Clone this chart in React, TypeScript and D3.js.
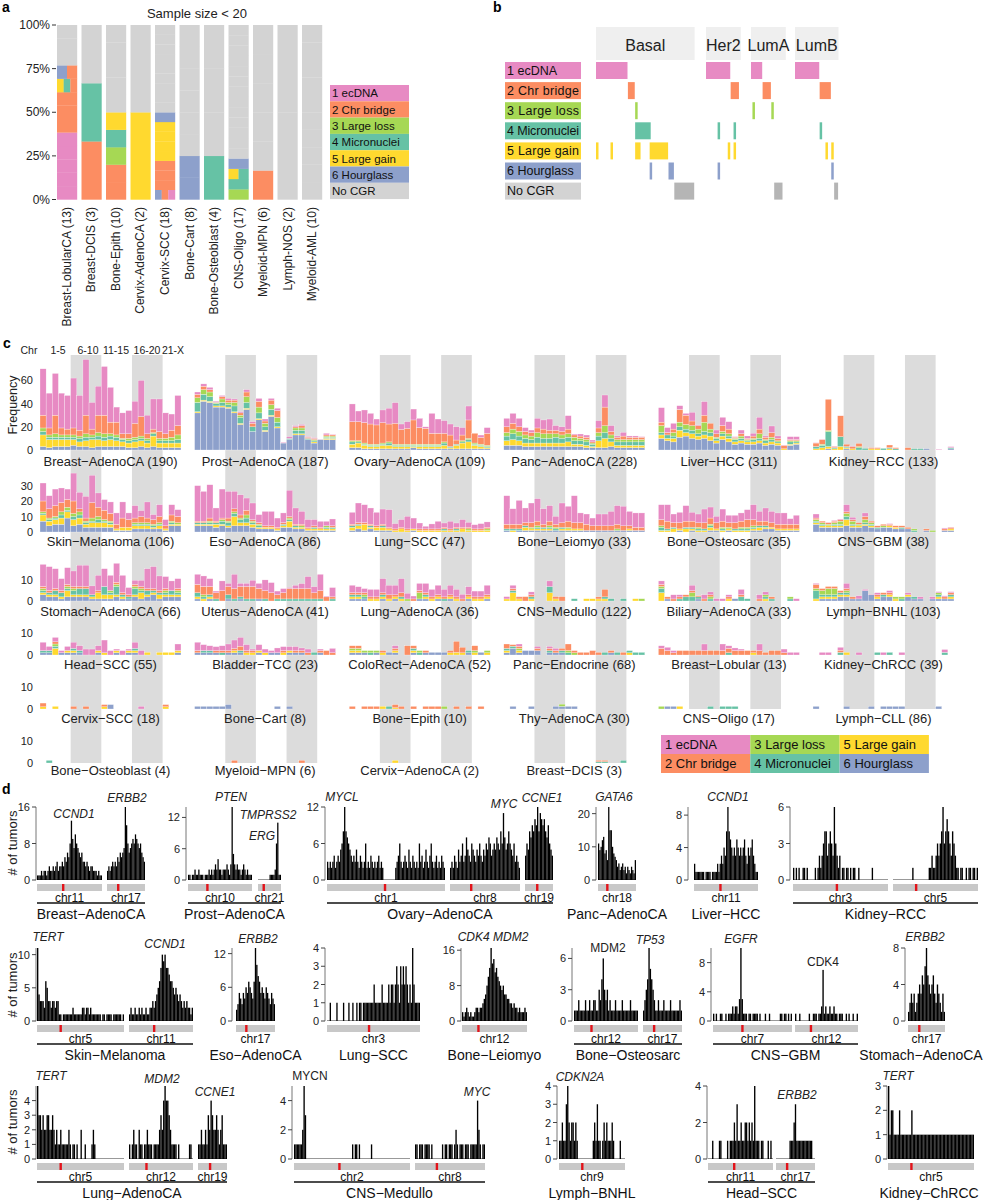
import React from "react";
import * as d3 from "d3";

const FONT = "Arial, 'Liberation Sans', Helvetica, sans-serif";
const PINK = "#e78ac3", ORANGE = "#fc8d62", GREEN = "#a6d854", TEAL = "#66c2a5", YELLOW = "#ffd92f", BLUE = "#8da0cb", GREY = "#d3d3d3";
const CAT_COLOR: Record<string, string> = { "1": PINK, "2": ORANGE, "3": GREEN, "4": TEAL, "5": YELLOW, "6": BLUE, "0": GREY };
const STACK_COLORS = [BLUE, YELLOW, TEAL, GREEN, ORANGE, PINK]; // hourglass, gain, micronuclei, loss, bridge, ecDNA
const LEGEND_LABELS = ["1 ecDNA", "2 Chr bridge", "3 Large loss", "4 Micronuclei", "5 Large gain", "6 Hourglass", "No CGR"];
const LEGEND_CODES = ["1", "2", "3", "4", "5", "6", "0"];

// ---------------- Panel a data ----------------
const A_TYPES = ["Breast-LobularCA (13)", "Breast-DCIS (3)", "Bone-Epith (10)", "Cervix-AdenoCA (2)", "Cervix-SCC (18)", "Bone-Cart (8)", "Bone-Osteoblast (4)", "CNS-Oligo (17)", "Myeloid-MPN (6)", "Lymph-NOS (2)", "Myeloid-AML (10)"];
const A_SAMPLES: string[][] = [
  ["1", "1", "1", "1", "1", "2", "2", "2", "542", "62", "", "", ""],
  ["2", "4", ""],
  ["2", "2", "3", "4", "5", "", "", "", "", ""],
  ["5", ""],
  ["621", "2", "2", "2", "5", "5", "5", "5", "6", "", "", "", "", "", "", "", "", ""],
  ["6", "6", "", "", "", "", "", ""],
  ["4", "", "", ""],
  ["3", "4", "54", "6", "", "", "", "", "", "", "", "", "", "", "", "", ""],
  ["2", "", "", "", "", ""],
  ["", ""],
  ["", "", "", "", "", "", "", "", "", ""],
];
const A_TICKS = [0, 0.25, 0.5, 0.75, 1];

// ---------------- Panel b data ----------------
const B_GROUPS = ["Basal", "Her2", "LumA", "LumB"];
const B_SIZES = [68, 24, 24, 30];
const B_MARKS_BASAL = [[1, 0, 22], [2, 22, 27], [3, 27, 29], [4, 27, 38], [5, 0, 2], [5, 10, 12], [5, 27, 31], [5, 37, 50], [6, 37, 39], [6, 50, 54], [0, 54, 68]];
const B_MARKS_HER2 = [[1, 0, 17], [2, 17, 23], [4, 8, 10], [4, 19, 21], [5, 15, 17], [5, 19, 21], [6, 8, 10]];
const B_MARKS_LUMA = [[1, 0, 8], [2, 8, 14], [3, 1, 3], [3, 14, 16], [0, 16, 22]];
const B_MARKS_LUMB = [[1, 0, 17], [2, 17, 25], [4, 17, 19], [5, 21, 23], [5, 25, 27], [6, 25, 27], [0, 27, 30]];
const B_MARKS = [B_MARKS_BASAL, B_MARKS_HER2, B_MARKS_LUMA, B_MARKS_LUMB];

// ---------------- Panel c data ([hourglass, gain, micronuclei, loss, bridge, ecDNA] per chromosome 1..22,X) ----------------
const C_BREAST_ADENO = [[3,10,3,3,11,40],[2,7,2,2,6,30],[3,6,2,3,16,36],[3,6,2,2,6,30],[3,6,2,2,5,29],[4,5,2,2,6,43],[3,4,3,2,5,30],[3,5,3,3,16,48],[2,7,2,2,5,23],[3,6,3,3,15,25],[3,5,3,3,16,42],[3,6,3,2,10,30],[3,5,3,2,11,13],[3,4,2,1,4,18],[2,4,2,2,4,20],[2,5,2,2,12,19],[3,5,2,2,17,31],[2,4,2,2,4,16],[3,9,2,1,3,26],[2,4,2,2,6,28],[2,4,2,2,4,18],[2,4,2,3,6,14],[2,4,3,4,8,26]];
const C_PROST = [[32,1,8,4,3,2],[42,1,5,4,3,2],[41,1,4,4,2,2],[37,1,2,1,0,1],[37,1,3,3,2,1],[36,1,2,2,2,1.5],[32,1,5,3,2,1],[22,1,5,2,2,1],[35,1,5,5,4,2],[16,0,4,0,3,1.4],[26,1,5,5,5,2.5],[16,1,3,3,2,1.7],[29,1,5,4,4,1.5],[19,1,4,4,6,2],[6,0,0,0,0,0.6],[9,0,1,0,0,1.5],[13,1,3,2,1,1],[13,1,3,2,2,1],[9,0,1,0,1,0.5],[6,1,1,1,1,0.6],[9,0,0,0,0,0.2],[9,1,1,1,1,1.4],[9,1,1,1,1,0.5]];
const C_OVARY = [[2,3,2,1,16.4,15.3],[2,4,1,1,16.4,9.2],[1,3,1,1,17.6,10.9],[1,2,1,1,17.4,9.2],[1,2,1,1,16.6,5.1],[1,3,1,1,17.6,10.9],[1,3,2,1,15.4,13.6],[1,2,1,1,18,17.8],[1,2,1,1,12.8,4.6],[1,2,1,1,13.7,5.7],[2,1,1,1,20.9,9.4],[1,2,1,1,14.3,8],[1,2,1,1,13.7,1.3],[1,2,1,1,9.4,17.2],[1,2,1,1,9.4,12.3],[1,3,2,1,7.4,10.9],[1,1,1,0,9.9,9.5],[1,3,1,0,3.6,11.4],[1,5,1,1,4.9,6.4],[1,6,2,1,15.9,12],[1,3,1,1,8.4,0],[1,2,1,1,5.9,2],[1,1,1,1,10.4,4.9]];
const C_PANC = [[4,4,4,3,5,7.3],[4,5,5,4,5,8.6],[4,4,4,4,4,7.3],[3,3,4,3,3,3.3],[3,3,3,3,3,2.2],[3,3,5,4,4,8.3],[3,3,4,4,4,7.9],[3,3,4,4,3,9.7],[3,3,5,3,3,4],[3,3,4,3,3,4],[3,4,4,3,4,11.6],[3,2,3,3,2,0.8],[3,2,3,2,2,1.8],[2,2,3,2,2,1.9],[2,1,2,1,1,1.6],[2,6,4,3,4,6.3],[2,8,5,6,16,10.4],[3,4,3,3,3,5],[2,2,3,2,2,1.1],[2,2,3,2,3,3.2],[2,2,3,2,2,1.1],[2,2,3,2,2,1.1],[2,2,3,2,2,0.5]];
const C_LIVER = [[10,3,2,6,3,12.5],[8,2,3,0,2,4.3],[7,3,2,3,3,5],[11,6,3,4,11,3.2],[12,3,3,4,8,1.6],[10,4,3,4,4,7.5],[9,3,2,4,3,0.6],[10,3,3,8,6,11.7],[8,4,3,3,5,0],[6,2,2,1,3,3.2],[9,3,2,2,5,7.2],[7,3,2,2,4,6.4],[5,2,2,1,1,0.5],[6,2,2,2,2,3.2],[5,2,1,1,1,2.1],[5,2,2,1,2,2.4],[6,2,2,4,4,10.2],[4,2,2,1,2,1.1],[5,2,2,2,4,5.7],[4,2,1,1,2,2.1],[0,1,0,0,3,0.3],[4,1,2,1,1,2.5],[5,1,1,1,1,2.5]];
const C_KIDNEY_RCC = [[0,1,2,0,3,0.3],[0,2,2,1,4,0.2],[1,2,12.8,1,26.9,0],[0,1,1,0,1,0.4],[0,3,8.5,0,18,0.1],[1,1,1,0,2,0],[0,1,0,0,2,0.4],[0,0,2,1,2.7,0],[0,0,1.4,0,0,0],[0,1,0,0,1,0],[0,1,0,0,1,0],[0,0,1.4,0,0,0],[0,1,1,0,2.3,0],[0,0,1,0,1,0],[],[0,0,0,0,2,0],[0,0,1.1,0,0,0],[0,0,1.1,0,0,0],[1.1,0,0,0,0,0],[],[0,0,0,0,0,0.6],[],[1,0,1,0,0,0.9]];
const C_SKIN = [[7,4,1,1,7,11.6],[4,3,1,1,6,8.4],[5,3,1,1,7,10.7],[5,4,2,2,6,9.4],[9,4,1,2,5,6.7],[4,4,2,2,8,18],[5,4,2,2,2,10.6],[3,2,1,1,2,14],[3,3,1,2,10,17.6],[3,3,2,2,6,9.2],[3,3,1,1,6,6.9],[3,2,1,1,5,7.4],[1,1,0,0,3,7.3],[1,2,0,0,6,10.4],[1,2,0,0,5,4.3],[2,2,1,1,3,8],[2,2,1,1,4,3.8],[2,2,1,1,3,10.4],[2,1,1,1,3,3.2],[2,2,1,1,4,7.6],[1,1,0,0,2,4],[4,1,1,1,4,6.6],[4,1,0,1,4,4.4]];
const C_ESO = [[4,1,1,0,1,22.9],[4,1,1,0,1,19.2],[4,1,1,1,2,21.5],[3,2,1,0,1,8.5],[4,1,2,1,1,18.7],[3,1,2,1,2,17.2],[4,6,2,1,2,11.2],[4,2,2,1,2,13],[4,2,3,2,3,7.9],[3,2,1,1,1,10.7],[2,1,1,1,1,5.2],[2,1,0,0,1,9.3],[2,1,0,0,1,9.3],[1,1,0,0,1,6],[3,1,1,0,1,6.3],[3,4,1,1,1,16.9],[2,1,1,0,1,10.5],[2,1,0,1,1,8.3],[1,1,0,0,1,5],[1,1,1,0,1,4],[1,1,0,0,1,3.9],[1,1,1,1,0,2.9],[1,1,1,0,1,4.4]];
const C_LUNG_SCC = [[1,2,1,0,1,7.7],[2,2,1,0,1,12.7],[1,4,0,0,1,11.6],[2,1,1,0,1,10.5],[1,2,0,0,1,8.7],[1,2,1,0,1,9.8],[1,1,0,0,1,11.4],[0,1,0,0,1,3.4],[0,2,0,0,1,5],[0,1,0,0,1,8.1],[1,1,0,0,0,7],[0,1,0,0,1,3.8],[0,1,0,0,1,1.7],[0,1,0,0,1,3.2],[0,1,0,0,1,4.9],[0,1,1,0,1,2.8],[0,1,0,0,1,4.9],[0,1,1,0,1,2.8],[0,2,0,0,1,5],[0,1,0,1,1,3.2],[0,1,0,0,1,2.7],[0,1,0,0,1,3.4],[0,1,0,1,1,3.5]];
const C_LEIOMYO = [[1,0,1,0,3,18.4],[0,1,1,0,3,10],[1,0,1,0,3,15.4],[1,2,1,0,2,9.5],[1,1,0,1,3,12.7],[1,1,1,1,3,14.5],[1,1,1,0,2,10],[1,1,1,1,3,10],[1,0,1,1,2,5.1],[1,1,1,0,3,12.7],[1,1,0,1,4,9.6],[1,1,0,0,4,17.4],[1,1,0,0,4,6.3],[1,0,0,0,4,6.6],[1,0,0,0,3,5],[1,0,0,0,3,7.6],[1,0,0,0,3,7.6],[1,0,0,0,3,9.3],[1,0,0,1,3,12],[1,0,0,0,3,12.6],[1,1,0,0,2,9.3],[1,0,0,0,2,9.3],[1,0,0,0,2,9.3]];
const C_OSTEOSARC = [[0,1,2,1,4,9.6],[0,1,1,0,5,10.6],[0,2,1,0,3,5.6],[1,1,0,0,4,6.7],[0,2,1,0,4,10],[1,1,1,0,4,5.7],[0,1,1,1,3,5.6],[0,1,1,0,4,8.8],[1,2,1,1,4,7.1],[1,1,0,0,4,4.1],[0,1,1,1,4,7.8],[1,1,0,1,3,4.8],[0,1,1,0,4,4.8],[0,1,1,1,4,5.3],[0,1,1,1,5,6.4],[1,1,1,1,4,9.6],[1,2,1,0,3,6.3],[2,1,1,0,3,8.5],[2,1,0,0,3,7.3],[1,1,0,0,3,7.3],[1,1,0,0,3,7.3],[1,1,0,0,3,3.6],[1,1,0,0,3,5.8]];
const C_GBM = [[5,1,1,1,1,2.6],[3,1,1,1,1,0],[3,1,0,1,1,0.2],[3,1,1,1,1,0.5],[3,1,1,2,1,0.4],[4,4,2,2,1,4.6],[3,1,1,2,1,1.5],[3,1,0,1,1,0],[4,1,1,2,2,2.3],[3,1,1,1,1,0],[2,0,1,0,1,0],[3,0,0,1,1,0],[3,1,0,0,1,0.4],[2,1,0,0,1,0],[2,0,1,0,1,0],[2,0,0,0,1,0],[0,0,1,1,0,0],[],[1,0,0,0,1,0],[0,0,0,1,0,0],[],[1,0,0,0,1,0.6],[1,1,0,0,1,0.2]];
const C_STOMACH = [[3,1,1,1,1,10.7],[2,1,1,0,1,11.6],[2,1,2,0,1,9.6],[1,1,2,0,1,5.8],[2,3,1,1,1,8.1],[2,1,2,1,1,7.5],[2,1,3,0,1,10.3],[2,1,3,0,1,10.3],[1,1,1,0,0,4.3],[1,3,0,0,1,7.4],[1,2,4,0,0,8.6],[1,2,1,1,0,7.4],[2,1,4,1,1,9.2],[1,1,1,0,1,8.4],[1,0,1,0,1,3.5],[2,1,3,1,1,2],[1,3,1,1,1,3],[2,1,2,0,1,9.6],[3,1,1,0,1,10.6],[1,2,1,0,1,7.1],[2,1,1,1,1,5.8],[2,1,2,0,0,4.7],[2,1,1,1,1,4.8]];
const C_UTERUS = [[1,1,2,0,4,4.9],[0,1,1,1,4,5.1],[1,1,1,0,4,3.8],[0,0,1,0,3,0.8],[0,0,0,0,5,4.7],[1,0,2,0,4,1.5],[0,0,1,0,5,6.9],[1,0,1,0,5,1.5],[0,0,1,0,6,1.5],[0,0,1,0,6,3],[1,0,0,0,5,2.5],[0,0,1,0,4,5.2],[0,0,0,0,4,4.9],[0,0,1,0,2,1.8],[0,0,1,0,3,2],[0,0,1,0,5,0.5],[0,0,1,0,5,1.6],[0,0,1,0,5,2.4],[0,0,1,0,5,5.8],[0,0,1,0,3,2.9],[0,0,1,0,4,7.9],[0,0,0,0,2,0.4],[0,0,1,0,1,4.5]];
const C_LUNG_ADENO = [[1,1,1,0,1,3.6],[1,1,1,0,1,2.9],[1,0,1,1,1,2],[0,1,0,0,1,3.6],[0,1,0,0,1,3.6],[1,1,1,0,1,6.8],[0,1,0,0,2,4.6],[1,1,0,0,1,4.6],[0,1,1,0,2,6.8],[0,0,0,1,0,2.7],[0,0,0,0,1,1.4],[1,0,0,3,1,3.5],[1,1,1,0,1,4.5],[0,1,0,0,1,3.6],[1,1,0,0,1,4.6],[0,0,1,0,1,3.6],[1,1,0,0,1,4.6],[0,1,0,0,1,3.6],[0,0,0,0,1,2.2],[1,1,0,0,1,3.9],[0,1,0,0,1,2.8],[0,1,0,0,1,2.8],[1,1,0,0,1,4.6]];
const C_MEDULLO = [[0,1,0,0,0,1.1],[0,4,1,0,1,1.6],[0,1,0,0,1,0.2],[0,0,0,0,2.1,0],[0,1,1,0,1,1.4],[],[],[0,4,3,0,0,2.7],[0,1,0,0,1.1,0],[0,0,0,0,2.1,0],[],[0,0,1.1,0,0,0],[],[0,1.1,0,0,0,0],[0,1.1,0,0,0,0],[0,1,0,0,1,0],[0,1,1,0,3.6,0],[0,0,1.1,0,0,0],[],[0,0,1.1,0,0,0],[],[0,1.1,0,0,0,0],[0,0,0,1.1,0,0]];
const C_BILIARY = [[0,4,2,1,1,1.7],[1,0,0,0,1,0],[0,0,0,0,1,2],[0,0,1,0,1,1],[0,0,2,0,1,0],[0,0,2,2,1,2.6],[1,0,1,0,0.5,0],[0,0,0,0,1,2],[0,0,1,1,1,1.4],[0,0,0,0,0,1.1],[0,0,0,0,0,1.1],[0,1,0,0,1,1],[1.1,0,0,0,0,0],[0,0,2,0,1,2.6],[0,0,1.1,0,0,0],[],[0,0,0,0,1,2],[0,1,1,1,0,1.4],[0,0,1,0,1,0],[],[],[0,0,1,1,0,0],[0,0,0,0,0,1.1]];
const C_BNHL = [[0,1,4,1,2,0.5],[1,1,1,2,1,0],[1,1,1,3,1,0],[1,1,1,3,1,0],[2,1,1,0,1,0],[2,1,1,1,1,2.5],[1,0,0,0,1,0],[1,0,0,0,0,1.5],[5,0,0,0,0,0.6],[3,0,0,0,0,0.2],[1,1,0,0,1,1],[2,0,1,0,1,0],[2,1,0,0,1,1],[0,1,0,1,0,0],[0,0,1,1,0,0],[2,1,0,0,0,1],[1,0,1,0,0,0],[1,0,0,0,0,1],[],[1,0,0,0,0,1],[1,1,1,1,0,0.5],[1,0,0,0,1,0.5],[1,1,1,0,1,0.5]];
const C_HEAD_SCC = [[1,0,1,0,0,3.8],[1,0,1,0,0,1.9],[0,3,1,1,1,2],[1,0,0,0,0,1],[1,1,0,0,0,1.9],[1,1,1,0,0,2.8],[1,0,1,0,0,2.2],[0,0,0,0,0,2.7],[0,0,0,0,0,2.7],[1,1,0,0,0,2.2],[0,1,0,0,0,5.8],[0,0,0,0,0,2],[1,1,0,0,0,0.7],[0,0,0,0,0,2],[1,1,0,0,0,0.7],[1,1,1,0,0,2.8],[0,0,0,0,0,2],[0,1.2,0,0,0,0],[],[0,1.2,0,0,0,0],[0,1.2,0,0,0,0],[0,1.2,0,0,0,0],[1,1,0,0,0,3]];
const C_BLADDER = [[1,0,0,0,1,3.8],[1,0,1,0,0,2.7],[1,0,1,0,0,2.2],[1,0,0,0,1,1.8],[0,0,1,0,1,2.2],[1,0,0,0,1,3],[1,1,0,0,1,3.8],[1,0,1,0,2,4],[0,1,0,0,1,2.7],[0,1,0,0,1,0.7],[1,1,0,0,0,2.7],[0,1,0,0,0,1.7],[1,0,0,0,0,1],[1,0,0,0,0,2.2],[0,1,0,0,1,1.8],[1,1,0,0,0,1.8],[1,0,0,0,1,1.8],[1,0,0,0,1,1.2],[0,0,0,0,1,1.7],[0,0,1.2,0,0,0],[1,0,0,0,1,0.7],[0,0,0,0,2,0],[0,0,0,0,1,2]];
const C_COLORECT = [[1,1,0,1,1.2,0],[1,1,0,1,1.2,0],[1,0,0,1,0,0],[0,0,1,1,0,0],[1,0,0,1,0,0],[0,1,0,0,1,0],[1.2,0,0,0,0,0],[1,1,0,0,1,1.2],[],[0,0,0,0,4.2,0],[1,1,1,0,1.2,0],[0,0,1,1,0,0],[1,0,0,0,1,0],[1.2,0,0,0,0,0],[1.2,0,0,0,0,0],[1.2,0,0,0,0,0],[0,1,0,0,1,0],[0,1.2,0,0,5,0],[0,1,0,0,2.5,0],[1,0,1,0,0,0],[0,1,0,1,2.2,0],[1.2,0,0,0,0,0],[0,1,0,1,0,0]];
const C_PANC_ENDO = [[1,1,1,0,2,0],[3,0,1,0,0.7,0],[1,1,0,1,1,1],[2,0,0,0,0,0],[2,0,0,0,0,0],[2,0,0,0,1,0.9],[],[1,0,1,0,1,0.9],[1,0,0,0,1,1],[1,0,1,0,1,0],[0,0,1,1,3,0],[0,0,0,1,1,0],[0,0,0,0,1.2,0],[0,0,0,0,1.2,0],[0,0,0,0,2,0],[0,0,0,0,1.2,0],[0,0,1.2,0,0,0],[1,0,0,0,1,0],[0,0,1.2,0,0,0],[0,0,0,0,1.2,0],[0,1,1,0,0,0],[0,0,1.2,0,0,0],[0,0,1.2,0,0,0]];
const C_BREAST_LOBULAR = [[0,0,0,0,3,1.2],[0,0,0,0,2,1.5],[0,0,0,0,1,1],[0,0,0,0,2,0],[0,0,0,0,2,0],[0,0,0,0,2,0],[0,0,0,0,2,0],[0,0,0,0,2,3],[0,0,0,0,2,0],[0,0,0,0,2,0],[0,0,0,0,2,3],[0,0,1,0,2,1.2],[0,0,0,0,2,1.2],[0,0,0,0,2,0.7],[0,0,0,0,2,0],[0,1,0,0,1,0],[0,0,0,0,2,3],[0,0,0,0,1.2,0],[0,0,0,0,2,0],[0,0,0,0,2,0],[0,0,0,0,1,1.7],[0,0,0,0,0,1.2],[0,0,0,0,0,1.2]];
const C_CHRCC = [[],[0,0,0,0,0,1.2],[0,0,0,0,0,1.2],[],[0,0,1.2,0,1,1.3],[0,1.2,0,0,0,0],[],[0,0,0,0,0,1.2],[],[],[0,0,1.2,0,0,0],[0,0,0,0,0,1.2],[0,0,1.2,0,0,0],[],[0,0,0,0,0,1.2],[],[],[],[],[],[],[0,0,1.2,0,0,1.3],[]];
const C_CERVIX_SCC = [[0,1,0,0,1.7,0],[],[0,1.2,0,0,0,0],[],[],[0,0,0,0,1.2,0],[],[0,0,0,0,1.2,0],[],[],[0,1,0,0,1,0],[2,0,0,0,0,0],[],[],[],[],[0,0,0,0,0,1.2],[],[],[],[0,1,0,0,1,0],[],[]];
const C_BONE_CART = [[1.2],[1.2],[1.2],[1.2],[1.2],[2],[],[],[],[],[],[],[],[1.2],[],[1.2],[],[],[],[],[],[],[]];
const C_BONE_EPITH = [[0,0,0,0,1.2,0],[],[0,0,0,0,1.2,0],[0,0,0,0,1.2,0],[0,0,0,0,1.2,0],[0,1.2,0,0,0,0],[0,0,1.2,0,0,0],[0,0.6,0,0,1.4,0],[0,0,0,0,1.2,0],[],[0,0,0,0,1.2,0],[],[0,0,0,0,1.2,0],[0,0,0,0,1.2,0],[0,0,0,0,1.2,0],[0,0,0,1.2,0,0],[],[0,0,0,0,1.2,0],[],[0,0,0,0,1.2,0],[],[0,0,0,0,1.2,0],[]];
const C_THY = [[],[1.2],[],[],[1.2],[],[],[],[1.2],[1.2,0,0,1],[1.2],[1.2],[],[],[],[],[],[],[],[],[],[],[]];
const C_CNS_OLIGO = [[0,0,0,1.2],[1.2],[1.2],[0,1.2],[],[],[],[],[0,0,1.2],[],[0,0,1.2],[0,0,1.2],[0,0,1.2],[],[],[],[],[],[],[],[],[],[]];
const C_LYMPH_CLL = [[1.2],[],[],[],[],[1.2],[],[],[],[1.2],[],[1.2],[1.2],[1.2],[1.2],[],[],[],[],[],[1.2],[],[]];
const C_BONE_OSTEOBLAST = [[],[0,0,1.2],[],[],[],[],[],[],[],[],[],[],[],[],[],[],[],[],[],[],[],[],[]];
const C_MYELOID_MPN = [[],[],[],[],[],[],[0,0,0,0,1.2],[],[],[],[],[],[],[],[],[],[],[0,0,0,0,1.2],[],[],[],[],[]];
const C_CERVIX_ADENO = [[],[],[],[],[],[],[],[0,1.2],[],[],[],[],[],[],[],[],[],[],[],[],[],[],[]];
const C_BREAST_DCIS = [[],[],[],[],[],[],[],[],[],[],[],[],[],[],[],[0,0,0.6,0,0.6],[0,0,0.6,0,0.6],[],[],[0,0,1.2],[],[],[]];

const C_NAMES = [
  ["Breast\u2212AdenoCA (190)", "Prost\u2212AdenoCA (187)", "Ovary\u2212AdenoCA (109)", "Panc\u2212AdenoCA (228)", "Liver\u2212HCC (311)", "Kidney\u2212RCC (133)"],
  ["Skin\u2212Melanoma (106)", "Eso\u2212AdenoCA (86)", "Lung\u2212SCC (47)", "Bone\u2212Leiomyo (33)", "Bone\u2212Osteosarc (35)", "CNS\u2212GBM (38)"],
  ["Stomach\u2212AdenoCA (66)", "Uterus\u2212AdenoCA (41)", "Lung\u2212AdenoCA (36)", "CNS\u2212Medullo (122)", "Biliary\u2212AdenoCA (33)", "Lymph\u2212BNHL (103)"],
  ["Head\u2212SCC (55)", "Bladder\u2212TCC (23)", "ColoRect\u2212AdenoCA (52)", "Panc\u2212Endocrine (68)", "Breast\u2212Lobular (13)", "Kidney\u2212ChRCC (39)"],
  ["Cervix\u2212SCC (18)", "Bone\u2212Cart (8)", "Bone\u2212Epith (10)", "Thy\u2212AdenoCA (30)", "CNS\u2212Oligo (17)", "Lymph\u2212CLL (86)"],
  ["Bone\u2212Osteoblast (4)", "Myeloid\u2212MPN (6)", "Cervix\u2212AdenoCA (2)", "Breast\u2212DCIS (3)"],
];
const C_DATA = [
  [C_BREAST_ADENO, C_PROST, C_OVARY, C_PANC, C_LIVER, C_KIDNEY_RCC],
  [C_SKIN, C_ESO, C_LUNG_SCC, C_LEIOMYO, C_OSTEOSARC, C_GBM],
  [C_STOMACH, C_UTERUS, C_LUNG_ADENO, C_MEDULLO, C_BILIARY, C_BNHL],
  [C_HEAD_SCC, C_BLADDER, C_COLORECT, C_PANC_ENDO, C_BREAST_LOBULAR, C_CHRCC],
  [C_CERVIX_SCC, C_BONE_CART, C_BONE_EPITH, C_THY, C_CNS_OLIGO, C_LYMPH_CLL],
  [C_BONE_OSTEOBLAST, C_MYELOID_MPN, C_CERVIX_ADENO, C_BREAST_DCIS],
];
const C_ROW_TICKS = [[0, 20, 40, 60], [0, 10, 20, 30], [0, 10], [0, 10], [0, 10], [0, 10]];
const C_HEADER = ["Chr", "1-5", "6-10", "11-15", "16-20", "21-X"];

// ---------------- Panel d data (tumor counts per bin) ----------------
const D_BRCA_11 = [1,1,1,2,1,2,2,1,2,3,2,2,3,2,3,4,2,3,3,4,3,5,4,6,5,8,13,9,7,10,8,7,6,5,6,4,4,3,4,3,2,3,3,2,2,2,1,2,1,1];
const D_BRCA_17 = [2,3,2,3,4,3,4,3,5,4,6,5,6,7,16,12,8,6,7,8,9,8,10,9,8,7,8,6,5,4];
const D_PRAD_10 = [1,1,0,1,1,2,1,1,2,1,1,1,0,1,1,1,2,1,2,1,2,3,2,4,2,2,1,2,2,2,3,2,1,3,14,5,3,2,3,2,2,1,2,3,2,1,2,1,1,1];
const D_PRAD_21 = [0,0,0,0,0,0,0,0,0,1,1,1,1,2,7,11,1,1];
const D_OV_1 = [3,2,3,2,3,4,2,3,4,3,5,6,8,12,8,7,6,5,4,3,4,3,5,3,2,4,3,2,3,6,2,3,2,4,3,2,3,2,3,4,2,3,2,0,0,0,0,0,0,0,0,0,2,3,4,6,3,2,3,4,3,2,5,3,2,4,3,2,3,2,6,3,4,2,3,5,3,2,4,6,3,2,3,4,2,3,2,4,3,2];
const D_OV_8 = [2,3,2,4,3,2,5,3,4,6,3,4,7,5,4,3,6,5,4,3,5,4,6,4,3,5,4,6,5,7,6,4,5,6,5,7,6,5,8,6,11,7,5,6,8,6,5,4,6,3,4,3,2];
const D_OV_19 = [4,6,5,8,7,9,8,10,9,12,8,11,10,9,10,8,7,9,6,5,4];
const D_PAAD_18 = [11,9,10,12,13,8,9,6,22,15,15,10,8,7,6,4,5,3,4,5,3,4,2,4,3,2,4,3,2,6];
const D_LIHC_11 = [2,1,1,1,1,1,1,1,0,1,1,1,1,0,1,1,1,1,2,1,2,3,2,4,3,6,9,6,5,4,3,4,3,5,4,3,4,3,4,5,3,2,4,3,4,5,3,2,1,1];
const D_RCC_3 = [1,0,1,0,1,0,0,1,1,0,1,0,0,0,0,0,1,0,1,2,1,2,3,4,4,2,3,4,3,2,6,3,2,1,2,0,1,1,0,1,1,0,1,0,1,1,0,0,1,0,0,0,0,0,0,0,0,0,1,0,0,0,0,0,0,0,0,0,0,0];
const D_RCC_5 = [0,0,0,0,0,0,0,0,0,0,0,0,0,0,1,0,0,0,0,0,0,0,0,0,0,0,1,1,2,1,1,2,3,2,3,4,6,3,4,5,4,3,2,4,3,2,1,1,0,1,1,0,0,1,0,1,1,0,1,1,0,1];
const D_SKCM_5 = [11,4,3,3,3,2,6,5,3,3,2,3,3,2,3,3,1,1,0,1,1,1,1,1,1,1,2,1,1,1,1,1,1,2,2,1,2,2,1,2,1,1,1,1,1,1,1,0,1,1,0,1,1,1,1,0,1,1,1,1,1,1,0,1];
const D_SKCM_11 = [1,2,1,1,2,1,1,2,1,2,1,1,2,1,1,2,2,3,2,3,4,5,6,8,10,9,10,8,8,7,6,6,5,4,5,4,3,4,3,2,3,2,3,2,2,1,2];
const D_ESCA_17 = [2,3,5,4,3,5,4,6,5,7,6,5,4,7,13,10,8,7,5,6,5,4,6,5,4,3,5,4,3];
const D_LUSC_3 = [0,0,1,0,0,0,0,1,0,0,0,0,1,0,0,0,1,0,0,1,0,0,1,0,1,1,0,1,1,1,1,1,1,1,1,2,1,1,1,1,1,2,1,1,1,1,2,1,2,2,1,2,3,2,1,3,2,3,2,3,2,1,2,1,4,2,1,1,1,1];
const D_LMS_12 = [2,1,2,3,2,1,2,1,1,2,3,3,2,3,3,4,5,6,8,10,12,16.5,13,14,11,12,10,9,8,7,8,6,6,5,5,4,4,3,4,3,3,2,3,2,2,2,3,2];
const D_OS_12 = [1,1,1,2,1,1,1,1,2,1,1,2,1,1,2,2,1,1,3,2,4,6,3,2,3,1,2,1,1,1,2,1,1,1,1,2,1,1,1,1,1,2,1,1,1,1,1];
const D_OS_17 = [1,2,3,4,7,5,4,3,2,1,1,2,1,1,1,2,1,1,1,1,2,1,1,1,1,1,1,2,1];
const D_GBM_7 = [1,0,1,0,0,1,1,0,0,1,0,1,1,1,2,1,2,2,1,3,10,3,1,1,1,0,1,1,0,1,1,1,1,0,1,0,0,0,1,0,0,1,0,0,0,0,0,0,0,1,1,0,1,1,0,1,0,1];
const D_GBM_12 = [1,0,0,1,0,0,0,0,0,0,1,0,0,1,1,1,0,1,1,2,7,1,2,1,1,2,1,1,2,1,1,0,1,1,1,0,0,1,0,1,0,0,1,0,0,1];
const D_STAD_17 = [1,2,3,2,3,1,2,3,4,3,5,4,6,8,5,4,3,4,5,3,2,4,3,2,1,3,1];
const D_LUAD_5 = [5,3,3,2,3,2,2,3,3,2,2,3,2,1,2,1,1,2,1,1,1,1,1,2,1,0,1,1,0,1,0,0,2,0,0,1,0,0,0,0,1,2,1,0,0,0,0,0,0,0,0,0,0,0,0,0,0,0,0,0,0,0,0,0];
const D_LUAD_12 = [1,0,1,2,1,1,0,2,1,1,0,1,1,2,1,1,1,0,1,1,1,1,2,3,2,4,5,4,4,3,2,1,1,1,1,0,1,0,0,0,0,0,0,0,1,1,0];
const D_LUAD_19 = [1,1,2,1,1,2,1,3,2,4,3,2,2,3,2,1,2,3,1,1,1];
const D_MB_2 = [1,1,1,1,1,1,2,5,3,0,0,0,0,0,0,0,0,0,0,0,0,0,0,0,0,0,0,0,0,0,0,0,0,0,0,0,0,0,0,0,0,0,0,1,0,1,1,0,1,0,0,0,0,0,0,0,0,1,0,0,0,0,0,0,0,0,0,0,0,0,0,0,0,0,0,0,0,0,0,0,0,0,0,0,0,0];
const D_MB_8 = [1,1,0,1,1,1,0,1,1,1,1,0,1,0,0,0,0,0,0,0,1,0,1,1,0,1,1,1,0,1,2,1,0,1,1,1,0,1,1,1,0,1,1,1,1,1,4,2,1,0,1,1];
const D_BNHL_9 = [1,1,2,1,1,3,4,2,1,2,2,1,2,1,0,0,0,0,0,0,0,0,0,0,0,1,2,1,3,1,1,0,1,2,1,2,1,1,1,2,1,0,0,0,0,1,0,0,0];
const D_HNSC_11 = [0,0,0,1,0,0,0,0,1,1,0,0,0,0,1,0,1,1,1,2,1,3,1,1,2,1,1,2,2,1,2,1,2,1,4,1,1,1,0,1,1,0,0,0,1,0,1,0];
const D_HNSC_17 = [0,0,0,0,0,0,0,0,0,0,1,1,1,2,3,1,1,1,1,1,1,1,1,1,1,1,1,0,0];
const D_CHRCC_5 = [3,1,2,2,1,1,1,1,2,1,1,1,1,1,1,1,1,2,1,1,1,1,1,1,1,1,1,1,1,1,1,1,1,1,1,1,1,1,1,1,1,1,1,1,1,1,1,1,1,1,1,1,1,1,1,1,1,1,1,1,1,1,1];

type Chrom = { label: string; x0: number; x1: number; cen: number; data: number[] };
type Gene = { t: string; x: number; y: number; it: boolean };
type DGroup = { name: string; base: number; yMax: number; ticks: number[]; axisX: number; labelX?: number; chroms: Chrom[]; genes: Gene[] };

const D_GROUPS: DGroup[] = [
  { name: "Breast\u2212AdenoCA", base: 880, yMax: 16, ticks: [0, 8, 16], axisX: 36,
    chroms: [{ label: "chr11", x0: 37, x1: 102, cen: 0.4, data: D_BRCA_11 }, { label: "chr17", x0: 107, x1: 145, cen: 0.29, data: D_BRCA_17 }],
    genes: [{ t: "CCND1", x: 74, y: 814, it: true }, { t: "ERBB2", x: 127, y: 798, it: true }] },
  { name: "Prost\u2212AdenoCA", base: 880, yMax: 14, ticks: [0, 6, 12], axisX: 186,
    chroms: [{ label: "chr10", x0: 188, x1: 252, cen: 0.3, data: D_PRAD_10 }, { label: "chr21", x0: 258, x1: 281, cen: 0.24, data: D_PRAD_21 }],
    genes: [{ t: "PTEN", x: 231, y: 797, it: true }, { t: "TMPRSS2", x: 268, y: 815, it: true }, { t: "ERG", x: 262, y: 836, it: true }] },
  { name: "Ovary\u2212AdenoCA", base: 880, yMax: 12, ticks: [0, 6, 12], axisX: 325,
    chroms: [{ label: "chr1", x0: 327, x1: 445, cen: 0.49, data: D_OV_1 }, { label: "chr8", x0: 450, x1: 520, cen: 0.3, data: D_OV_8 }, { label: "chr19", x0: 525, x1: 553, cen: 0.43, data: D_OV_19 }],
    genes: [{ t: "MYCL", x: 342, y: 797, it: true }, { t: "MYC", x: 504, y: 804, it: true }, { t: "CCNE1", x: 542, y: 798, it: true }] },
  { name: "Panc\u2212AdenoCA", base: 880, yMax: 22, ticks: [0, 10, 20], axisX: 596,
    chroms: [{ label: "chr18", x0: 598, x1: 636, cen: 0.24, data: D_PAAD_18 }],
    genes: [{ t: "GATA6", x: 614, y: 797, it: true }] },
  { name: "Liver\u2212HCC", base: 880, yMax: 9, ticks: [0, 4, 8], axisX: 688,
    chroms: [{ label: "chr11", x0: 694, x1: 758, cen: 0.41, data: D_LIHC_11 }],
    genes: [{ t: "CCND1", x: 728, y: 797, it: true }] },
  { name: "Kidney\u2212RCC", base: 880, yMax: 6, ticks: [0, 3, 6], axisX: 790,
    chroms: [{ label: "chr3", x0: 793, x1: 888, cen: 0.46, data: D_RCC_3 }, { label: "chr5", x0: 893, x1: 978, cen: 0.27, data: D_RCC_5 }],
    genes: [] },
  { name: "Skin\u2212Melanoma", base: 1021, yMax: 11, ticks: [0, 5, 10], axisX: 36,
    chroms: [{ label: "chr5", x0: 37, x1: 124, cen: 0.27, data: D_SKCM_5 }, { label: "chr11", x0: 129, x1: 193, cen: 0.39, data: D_SKCM_11 }],
    genes: [{ t: "TERT", x: 48, y: 937, it: true }, { t: "CCND1", x: 165, y: 944, it: true }] },
  { name: "Eso\u2212AdenoCA", base: 1021, yMax: 13, ticks: [0, 6, 12], axisX: 232,
    chroms: [{ label: "chr17", x0: 236, x1: 275, cen: 0.26, data: D_ESCA_17 }],
    genes: [{ t: "ERBB2", x: 258, y: 939, it: true }] },
  { name: "Lung\u2212SCC", base: 1021, yMax: 4, ticks: [0, 1, 2, 3, 4], axisX: 325,
    chroms: [{ label: "chr3", x0: 327, x1: 420, cen: 0.45, data: D_LUSC_3 }],
    genes: [] },
  { name: "Bone\u2212Leiomyo", base: 1021, yMax: 16.5, ticks: [0, 8, 16], axisX: 461,
    chroms: [{ label: "chr12", x0: 462, x1: 527, cen: 0.25, data: D_LMS_12 }],
    genes: [{ t: "CDK4 MDM2", x: 493, y: 937, it: true }] },
  { name: "Bone\u2212Osteosarc", base: 1021, yMax: 7, ticks: [0, 3, 6], axisX: 572,
    chroms: [{ label: "chr12", x0: 574, x1: 638, cen: 0.27, data: D_OS_12 }, { label: "chr17", x0: 643, x1: 682, cen: 0.28, data: D_OS_17 }],
    genes: [{ t: "MDM2", x: 608, y: 948, it: false }, { t: "TP53", x: 650, y: 940, it: true }] },
  { name: "CNS\u2212GBM", base: 1021, yMax: 10, ticks: [0, 4, 8], axisX: 711,
    chroms: [{ label: "chr7", x0: 713, x1: 792, cen: 0.37, data: D_GBM_7 }, { label: "chr12", x0: 795, x1: 858, cen: 0.25, data: D_GBM_12 }],
    genes: [{ t: "EGFR", x: 741, y: 939, it: true }, { t: "CDK4", x: 823, y: 962, it: false }] },
  { name: "Stomach\u2212AdenoCA", base: 1021, yMax: 8, ticks: [0, 4, 8], axisX: 905, labelX: 921,
    chroms: [{ label: "chr17", x0: 908, x1: 945, cen: 0.3, data: D_STAD_17 }],
    genes: [{ t: "ERBB2", x: 925, y: 937, it: true }] },
  { name: "Lung\u2212AdenoCA", base: 1159, yMax: 5, ticks: [0, 1, 2, 3, 4], axisX: 36,
    chroms: [{ label: "chr5", x0: 37, x1: 124, cen: 0.27, data: D_LUAD_5 }, { label: "chr12", x0: 129, x1: 193, cen: 0.27, data: D_LUAD_12 }, { label: "chr19", x0: 198, x1: 227, cen: 0.41, data: D_LUAD_19 }],
    genes: [{ t: "TERT", x: 51, y: 1076, it: true }, { t: "MDM2", x: 162, y: 1079, it: true }, { t: "CCNE1", x: 215, y: 1092, it: true }] },
  { name: "CNS\u2212Medullo", base: 1159, yMax: 5, ticks: [0, 2, 4], axisX: 292,
    chroms: [{ label: "chr2", x0: 294, x1: 410, cen: 0.39, data: D_MB_2 }, { label: "chr8", x0: 415, x1: 485, cen: 0.31, data: D_MB_8 }],
    genes: [{ t: "MYCN", x: 310, y: 1076, it: false }, { t: "MYC", x: 477, y: 1092, it: true }] },
  { name: "Lymph\u2212BNHL", base: 1159, yMax: 4, ticks: [0, 1, 2, 3, 4], axisX: 557,
    chroms: [{ label: "chr9", x0: 559, x1: 625, cen: 0.35, data: D_BNHL_9 }],
    genes: [{ t: "CDKN2A", x: 580, y: 1077, it: true }] },
  { name: "Head\u2212SCC", base: 1159, yMax: 4, ticks: [0, 2, 4], axisX: 707,
    chroms: [{ label: "chr11", x0: 708, x1: 773, cen: 0.4, data: D_HNSC_11 }, { label: "chr17", x0: 776, x1: 815, cen: 0.28, data: D_HNSC_17 }],
    genes: [{ t: "ERBB2", x: 797, y: 1095, it: true }] },
  { name: "Kidney\u2212ChRCC", base: 1159, yMax: 3, ticks: [0, 1, 2, 3], axisX: 887, labelX: 929,
    chroms: [{ label: "chr5", x0: 888, x1: 974, cen: 0.27, data: D_CHRCC_5 }],
    genes: [{ t: "TERT", x: 898, y: 1076, it: true }] },
];

// ---------------- Components ----------------
function PanelA() {
  const x = d3.scaleBand<string>().domain(A_TYPES).range([57, 322]).paddingInner(0.184).paddingOuter(0);
  const y = d3.scaleLinear().domain([0, 1]).range([199.5, 25]);
  const els: React.ReactNode[] = [];
  A_TYPES.forEach((t, i) => {
    const samples = A_SAMPLES[i];
    const n = samples.length;
    const bx = x(t)!;
    const bw = x.bandwidth();
    samples.forEach((codes, k) => {
      const y0 = y(k / n), y1 = y((k + 1) / n);
      const cs = codes.length ? codes.split("") : ["0"];
      cs.forEach((c, j) => {
        els.push(<rect key={`a${i}-${k}-${j}`} x={bx + (bw * j) / cs.length} y={y1} width={bw / cs.length + 0.2} height={y0 - y1 + 0.2} fill={CAT_COLOR[c]} />);
      });
    });
    els.push(
      <text key={`al${i}`} transform={`translate(${bx + bw / 2 + 4},207) rotate(-90)`} textAnchor="end" fontSize={12} fill="#222">{t}</text>
    );
  });
  return (
    <g fontFamily={FONT}>
      <text x={2} y={12} fontSize={14} fontWeight="bold">a</text>
      <text x={197} y={13} fontSize={13} textAnchor="middle" dominantBaseline="central" fill="#222">Sample size &lt; 20</text>
      {A_TICKS.map((v) => (
        <g key={v}>
          <line x1={52} x2={56} y1={y(v)} y2={y(v)} stroke="#333" strokeWidth={1} />
          <text x={50} y={y(v)} fontSize={12} textAnchor="end" dominantBaseline="central" fill="#222">{`${v * 100}%`}</text>
        </g>
      ))}
      {els}
      {LEGEND_LABELS.map((l, i) => (
        <g key={l}>
          <rect x={330} y={85 + i * 16.3} width={79} height={16.3} fill={CAT_COLOR[LEGEND_CODES[i]]} />
          <text x={332} y={85 + i * 16.3 + 8.3} fontSize={11.5} dominantBaseline="central" fill="#111">{l}</text>
        </g>
      ))}
    </g>
  );
}

function PanelB() {
  const groupStarts = [596, 706, 751, 795];
  const sw = 1.45;
  const rowY = (code: number) => 62 + (code === 0 ? 6 : code - 1) * 20.1;
  return (
    <g fontFamily={FONT}>
      <text x={493} y={12} fontSize={14} fontWeight="bold">b</text>
      {B_GROUPS.map((g, gi) => {
        const x0 = groupStarts[gi];
        const w = B_SIZES[gi] * sw;
        return (
          <g key={g}>
            <rect x={x0} y={27} width={w} height={33} fill="#efefef" />
            <text x={x0 + w / 2} y={45} fontSize={16} textAnchor="middle" dominantBaseline="central" fill="#222">{g}</text>
            {B_MARKS[gi].map(([c, s, e], k) => (
              <rect key={k} x={x0 + s * sw} y={rowY(c)} width={Math.max(1, (e - s) * sw - 0.4)} height={17} fill={c === 0 ? "#b5b5b5" : CAT_COLOR[String(c)]} />
            ))}
          </g>
        );
      })}
      {LEGEND_LABELS.map((l, i) => (
        <g key={l}>
          <rect x={505} y={62 + i * 20.1} width={76} height={17} fill={CAT_COLOR[LEGEND_CODES[i]]} />
          <text x={507} y={62 + i * 20.1 + 8.8} fontSize={12.5} dominantBaseline="central" fill="#111" textLength={l.length > 11 ? 72 : undefined}>{l}</text>
        </g>
      ))}
    </g>
  );
}

function PanelC() {
  const rowBase = [450, 532, 601, 655, 709, 763];
  const rowPpu = [1.16, 1.55, 2.07, 2.2, 2.2, 2.2];
  const rowLabelY = [461, 541, 611, 664, 718, 770];
  const colX = (c: number) => 40 + c * 154.6;
  const panelW = 141;
  const nb = 23;
  const els: React.ReactNode[] = [];
  for (let c = 0; c < 6; c++) {
    const xs = d3.scaleLinear().domain([0, nb]).range([colX(c), colX(c) + panelW]);
    const bottom = c < 4 ? 763 : 709;
    [[5, 10], [15, 20]].forEach(([a, b], k) => {
      els.push(<rect key={`band${c}-${k}`} x={xs(a)} y={355} width={xs(b) - xs(a)} height={bottom - 355} fill="#dcdcdc" />);
    });
  }
  C_DATA.forEach((row, r) => {
    const y = d3.scaleLinear().domain([0, 10]).range([rowBase[r], rowBase[r] - 10 * rowPpu[r]]);
    row.forEach((panel, c) => {
      const xs = d3.scaleLinear().domain([0, nb]).range([colX(c), colX(c) + panelW]);
      panel.forEach((bar, i) => {
        let acc = 0;
        bar.forEach((v, k) => {
          if (!v) return;
          const y0 = y(acc), y1 = y(acc + v);
          acc += v;
          els.push(<rect key={`c${r}-${c}-${i}-${k}`} x={xs(i)} y={y1} width={xs(i + 1) - xs(i)} height={y0 - y1} fill={STACK_COLORS[k]} stroke="#fff" strokeWidth={0.35} strokeOpacity={0.8} />);
        });
      });
      els.push(<text key={`cl${r}-${c}`} x={colX(c) + panelW / 2} y={rowLabelY[r]} fontSize={13} textAnchor="middle" dominantBaseline="central" fill="#222">{C_NAMES[r][c]}</text>);
    });
    C_ROW_TICKS[r].forEach((t) => {
      els.push(<text key={`ct${r}-${t}`} x={33} y={y(t)} fontSize={11} textAnchor="end" dominantBaseline="central" fill="#222">{t}</text>);
    });
  });
  const headerX = [29, 58, 88, 116, 147, 173];
  const legendCols = [[PINK, "1 ecDNA", ORANGE, "2 Chr bridge"], [GREEN, "3 Large loss", TEAL, "4 Micronuclei"], [YELLOW, "5 Large gain", BLUE, "6 Hourglass"]];
  return (
    <g fontFamily={FONT}>
      <text x={3} y={348} fontSize={14} fontWeight="bold">c</text>
      {C_HEADER.map((h, i) => (
        <text key={h} x={headerX[i]} y={350} fontSize={10.5} textAnchor="middle" dominantBaseline="central" fill="#222">{h}</text>
      ))}
      <text transform="translate(13,405) rotate(-90)" fontSize={12.5} textAnchor="middle" dominantBaseline="central" fill="#222">Frequency</text>
      {els}
      {legendCols.map((col, i) => (
        <g key={i}>
          <rect x={661 + i * 89.3} y={735} width={89.3} height={19} fill={col[0]} />
          <text x={665 + i * 89.3} y={744.5} fontSize={13} dominantBaseline="central" fill="#111">{col[1]}</text>
          <rect x={661 + i * 89.3} y={754} width={89.3} height={19} fill={col[2]} />
          <text x={665 + i * 89.3} y={763.5} fontSize={13} dominantBaseline="central" fill="#111">{col[3]}</text>
        </g>
      ))}
    </g>
  );
}

function PanelD() {
  const els: React.ReactNode[] = [];
  D_GROUPS.forEach((g, gi) => {
    const y = d3.scaleLinear().domain([0, g.yMax]).range([g.base, g.base - 73]);
    els.push(<line key={`ax${gi}`} x1={g.axisX} x2={g.axisX} y1={g.base} y2={y(g.yMax)} stroke="#777" strokeWidth={1} />);
    g.ticks.forEach((t) => {
      els.push(<line key={`tk${gi}-${t}`} x1={g.axisX - 4} x2={g.axisX} y1={y(t)} y2={y(t)} stroke="#444" strokeWidth={1} />);
      els.push(<text key={`tl${gi}-${t}`} x={g.axisX - 6} y={y(t)} fontSize={11} textAnchor="end" dominantBaseline="central" fill="#222">{t}</text>);
    });
    g.chroms.forEach((ch, ci) => {
      const n = ch.data.length;
      const xs = d3.scaleLinear().domain([0, n]).range([ch.x0, ch.x1]);
      els.push(<line key={`bl${gi}-${ci}`} x1={ch.x0} x2={ch.x1} y1={g.base - 0.5} y2={g.base - 0.5} stroke="#999" strokeWidth={1} />);
      ch.data.forEach((v, i) => {
        if (!v) return;
        els.push(<rect key={`h${gi}-${ci}-${i}`} x={xs(i)} y={y(v)} width={xs(i + 1) - xs(i)} height={g.base - y(v)} fill="#000" />);
      });
      els.push(<rect key={`cb${gi}-${ci}`} x={ch.x0} y={g.base + 4} width={ch.x1 - ch.x0} height={7} fill="#c8c8c8" />);
      els.push(<rect key={`cen${gi}-${ci}`} x={ch.x0 + ch.cen * (ch.x1 - ch.x0) - 1} y={g.base + 4} width={2.4} height={7} fill="#e3141b" />);
      els.push(<text key={`cl${gi}-${ci}`} x={(ch.x0 + ch.x1) / 2} y={g.base + 18} fontSize={12} textAnchor="middle" dominantBaseline="central" fill="#111">{ch.label}</text>);
    });
    const gx0 = g.chroms[0].x0, gx1 = g.chroms[g.chroms.length - 1].x1;
    if (g.chroms.length > 1) {
      els.push(<line key={`ul${gi}`} x1={gx0} x2={gx1} y1={g.base + 23} y2={g.base + 23} stroke="#111" strokeWidth={1.4} />);
    }
    els.push(<text key={`gn${gi}`} x={g.labelX ?? (gx0 + gx1) / 2} y={g.base + 34} fontSize={14} textAnchor="middle" dominantBaseline="central" fill="#111">{g.name}</text>);
    g.genes.forEach((ge, k) => {
      els.push(<text key={`ge${gi}-${k}`} x={ge.x} y={ge.y} fontSize={12} fontStyle={ge.it ? "italic" : "normal"} textAnchor="middle" dominantBaseline="central" fill="#222">{ge.t}</text>);
    });
  });
  return (
    <g fontFamily={FONT}>
      <text x={2} y={794} fontSize={14} fontWeight="bold">d</text>
      {[843, 985, 1122].map((cy) => (
        <text key={cy} transform={`translate(12,${cy}) rotate(-90)`} fontSize={13} textAnchor="middle" dominantBaseline="central" fill="#222"># of tumors</text>
      ))}
      {els}
    </g>
  );
}

export default function App() {
  return (
    <svg width={985} height={1200} viewBox="0 0 985 1200" style={{ position: "absolute", left: 0, top: 0, display: "block", background: "#fff" }}>
      <rect width={985} height={1200} fill="#fff" />
      <PanelA />
      <PanelB />
      <PanelC />
      <PanelD />
    </svg>
  );
}
